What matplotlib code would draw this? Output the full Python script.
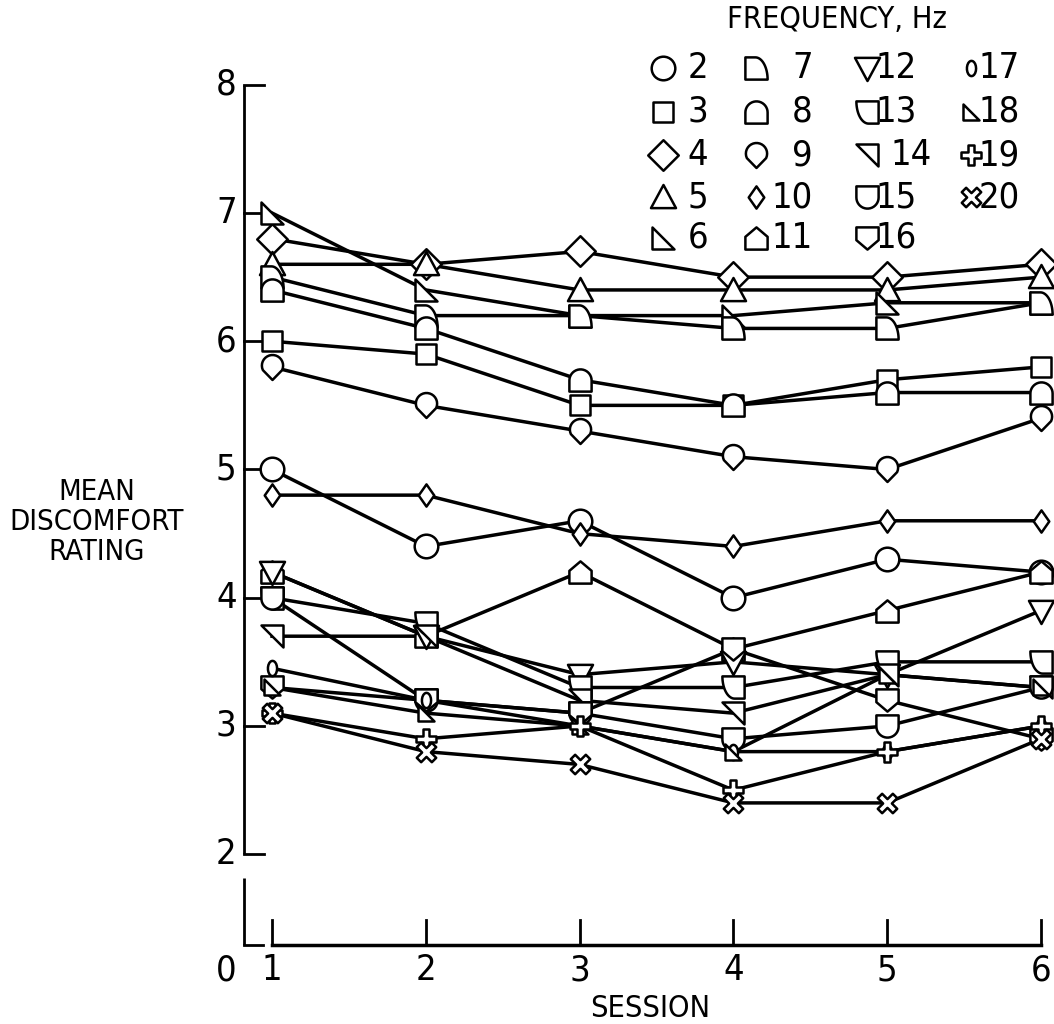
import numpy as np
import matplotlib.pyplot as plt
from matplotlib.path import Path
from matplotlib import font_manager

plt.rcParams["font.family"] = ["DejaVu Sans"]
plt.rcParams["font.stretch"] = "condensed"

sessions = [1, 2, 3, 4, 5, 6]

# mean discomfort rating per session for each vibration frequency (Hz)
hz2 = [5.0, 4.4, 4.6, 4.0, 4.3, 4.2]
hz3 = [6.0, 5.9, 5.5, 5.5, 5.7, 5.8]
hz4 = [6.8, 6.6, 6.7, 6.5, 6.5, 6.6]
hz5 = [6.6, 6.6, 6.4, 6.4, 6.4, 6.5]
hz6 = [7.0, 6.4, 6.2, 6.2, 6.3, 6.3]
hz7 = [6.5, 6.2, 6.2, 6.1, 6.1, 6.3]
hz8 = [6.4, 6.1, 5.7, 5.5, 5.6, 5.6]
hz9 = [5.8, 5.5, 5.3, 5.1, 5.0, 5.4]
hz10 = [4.8, 4.8, 4.5, 4.4, 4.6, 4.6]
hz11 = [4.2, 3.7, 4.2, 3.6, 3.9, 4.2]
hz12 = [4.2, 3.7, 3.4, 3.5, 3.4, 3.9]
hz13 = [4.0, 3.8, 3.3, 3.3, 3.5, 3.5]
hz14 = [3.7, 3.7, 3.2, 3.1, 3.4, 3.3]
hz15 = [4.0, 3.2, 3.1, 2.9, 3.0, 3.3]
hz16 = [3.3, 3.2, 3.1, 3.6, 3.2, 2.9]
hz17 = [3.45, 3.2, 3.0, 2.8, 2.8, 3.0]
hz18 = [3.3, 3.1, 3.0, 2.8, 3.4, 3.3]
hz19 = [3.1, 2.9, 3.0, 2.5, 2.8, 3.0]
hz20 = [3.1, 2.8, 2.7, 2.4, 2.4, 2.9]

frequencies = list(range(2, 21))
ratings = [hz2, hz3, hz4, hz5, hz6, hz7, hz8, hz9, hz10, hz11,
           hz12, hz13, hz14, hz15, hz16, hz17, hz18, hz19, hz20]

print(sorted({f.name for f in font_manager.fontManager.ttflist}))
print(font_manager.findfont(font_manager.FontProperties(family="DejaVu Sans", stretch="condensed")))


# ---- hand-made marker shapes ----
def arc(cx, cy, rx, ry, t0, t1, n=20):
    t = np.radians(np.linspace(t0, t1, n))
    return list(zip(cx + rx * np.cos(t), cy + ry * np.sin(t)))


def shape(pts):
    pts = list(pts) + [pts[0]]
    codes = [Path.MOVETO] + [Path.LINETO] * (len(pts) - 2) + [Path.CLOSEPOLY]
    return Path(pts, codes)


def flip(pts, sx=1, sy=1):
    return [(sx * x, sy * y) for x, y in pts]


quarter = [(-1, -1), (-1, 1), (-0.1, 1)] + arc(-0.1, -1, 1.1, 2, 90, 0)[1:]
arch = [(-1, -1), (1, -1), (1, 0)] + arc(0, 0, 1, 1, 0, 180)[1:]
house = [(-1, -1), (1, -1), (1, 0.15), (0, 1), (-1, 0.15)]
plus = [(-0.35, 1), (0.35, 1), (0.35, 0.35), (1, 0.35), (1, -0.35), (0.35, -0.35),
        (0.35, -1), (-0.35, -1), (-0.35, -0.35), (-1, -0.35), (-1, 0.35), (-0.35, 0.35)]
xcross = [(0.0, 0.45), (0.55, 1), (1, 0.55), (0.45, 0.0), (1, -0.55), (0.55, -1),
          (0.0, -0.45), (-0.55, -1), (-1, -0.55), (-0.45, 0.0), (-1, 0.55), (-0.55, 1)]

markers = {
    2: ("o", 17),
    3: (shape([(-1, -1), (1, -1), (1, 1), (-1, 1)]), 15),
    4: (shape([(0, 1), (1, 0), (0, -1), (-1, 0)]), 22),
    5: (shape([(-1, -0.85), (1, -0.85), (0, 1)]), 18),
    6: (shape([(-1, 1), (-1, -1), (1, -1)]), 16),
    7: (shape(quarter), 16),
    8: (shape(arch), 16),
    9: (shape(arc(0, 0.15, 0.85, 0.85, -25, 205) + [(0, -1)]), 18),
    10: (shape([(0, 1), (0.7, 0), (0, -1), (-0.7, 0)]), 16),
    11: (shape(house), 16),
    12: (shape([(-1, 0.85), (1, 0.85), (0, -1)]), 18),
    13: (shape(flip(quarter, -1, -1)), 16),
    14: (shape([(-1, 1), (1, 1), (1, -1)]), 16),
    15: (shape([(-1, 1), (1, 1), (1, 0)] + arc(0, 0, 1, 1, 0, -180)[1:]), 16),
    16: (shape(flip(house, 1, -1)), 16),
    17: (shape(arc(0, 0, 0.6, 1, 0, 360)[:-1]), 11),
    18: (shape([(-1, 1), (-1, -1), (1, -1)]), 11),
    19: (shape(plus), 14),
    20: (shape(xcross), 14),
}

fig = plt.figure(figsize=(10.54, 10.24), dpi=100)
ax = fig.add_axes([0, 0, 1, 1])
ax.set_xlim(-0.769, 6.085)
ax.set_ylim(0.676, 8.661)
ax.axis("off")

lw = 2.5
mew = 1.8

# connecting lines first, markers on top
for vals in ratings:
    ax.plot(sessions, vals, color="black", lw=lw, zorder=2, solid_joinstyle="miter")
for f, vals in zip(frequencies, ratings):
    m, ms = markers[f]
    ax.plot(sessions, vals, ls="none", marker=m, ms=ms, mfc="white",
            mec="black", mew=mew, zorder=3)

# broken axes
ax_x = 0.818
x_base = 1.292
ax.plot([ax_x, ax_x], [2, 8], color="black", lw=2, zorder=1, solid_capstyle="butt")
ax.plot([ax_x, ax_x], [x_base, 1.815], color="black", lw=2, zorder=1, solid_capstyle="butt")
ax.plot([ax_x, 0.94], [x_base, x_base], color="black", lw=2, zorder=1)
for v in range(2, 9):
    ax.plot([ax_x, 0.95], [v, v], color="black", lw=2, zorder=1)
    ax.text(0.77, v, str(v), ha="right", va="center", fontsize=26)
ax.plot([1, 6], [x_base, x_base], color="black", lw=2.5, zorder=1)
for s in sessions:
    ax.plot([s, s], [x_base, x_base + 0.195], color="black", lw=2, zorder=1)
    ax.text(s, 1.097, str(s), ha="center", va="center", fontsize=26)
ax.text(0.77, 1.097, "0", ha="right", va="center", fontsize=26)
ax.text(3.458, 0.80, "SESSION", ha="center", va="center", fontsize=22)

fig.text(97 / 1054, 1 - 522 / 1024, "MEAN\nDISCOMFORT\nRATING", ha="center",
         va="center", fontsize=21, multialignment="center", linespacing=1.08)

# key: four columns of symbols with their frequency
fig.text(837 / 1054, 1 - 20 / 1024, "FREQUENCY, Hz", ha="center", va="center",
         fontsize=22)
row_y = [68, 112, 155, 197, 238]
col_marker_x = [663, 756, 867, 971]
col_label_x = [708, 813, 917, 1020]
for i, f in enumerate(frequencies):
    col, row = divmod(i, 5)
    if col == 3:
        row = i - 15
    m, ms = markers[f]
    px = col_marker_x[col]
    py = row_y[row]
    fig.lines.append(plt.Line2D([px / 1054], [1 - py / 1024], marker=m, ms=ms,
                                mfc="white", mec="black", mew=mew,
                                transform=fig.transFigure))
    lx = col_label_x[col] + (15 if f == 14 else 0)
    fig.text(lx / 1054, 1 - py / 1024, str(f), ha="right", va="center",
             fontsize=26)

fig.savefig("out.png", dpi=100)
